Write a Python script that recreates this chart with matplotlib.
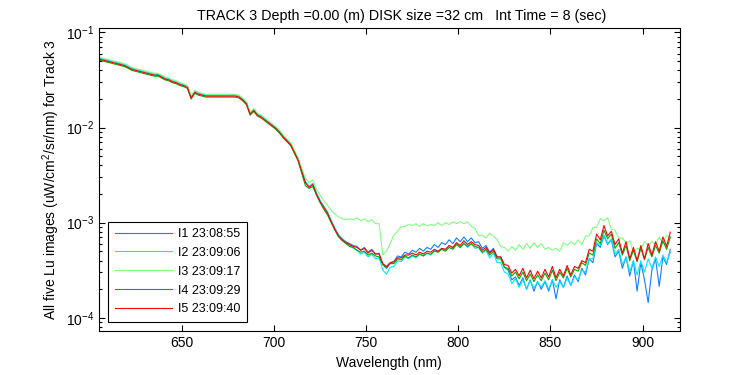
import numpy as np
import matplotlib
matplotlib.use('Agg')
import matplotlib.pyplot as plt
from matplotlib.ticker import LogLocator, NullFormatter

plt.rcParams['font.family'] = ['Liberation Sans', 'DejaVu Sans']
plt.rcParams['mathtext.default'] = 'regular'

# wavelength grid (nm), 2 nm steps
wavelength = np.arange(605, 916, 2)

# log10 of Lu, one list per image
i1_log = [-1.27,-1.28,-1.29,-1.30,-1.31,-1.32,-1.33,-1.34,-1.36,-1.38,
	-1.39,-1.40,-1.41,-1.42,-1.43,-1.44,-1.44,-1.46,-1.48,-1.49,
	-1.51,-1.52,-1.54,-1.55,-1.57,-1.68,-1.62,-1.64,-1.65,-1.66,
	-1.66,-1.66,-1.66,-1.66,-1.66,-1.66,-1.66,-1.66,-1.67,-1.70,
	-1.74,-1.85,-1.81,-1.86,-1.88,-1.91,-1.94,-1.97,-2.00,-2.04,
	-2.09,-2.13,-2.17,-2.25,-2.33,-2.45,-2.57,-2.62,-2.59,-2.69,
	-2.77,-2.83,-2.89,-2.98,-3.06,-3.13,-3.17,-3.20,-3.22,-3.24,
	-3.25,-3.29,-3.26,-3.31,-3.28,-3.33,-3.32,-3.44,-3.48,-3.43,
	-3.41,-3.35,-3.36,-3.31,-3.33,-3.29,-3.31,-3.27,-3.30,-3.26,
	-3.28,-3.23,-3.26,-3.21,-3.23,-3.18,-3.22,-3.16,-3.20,-3.15,
	-3.20,-3.16,-3.21,-3.20,-3.27,-3.24,-3.31,-3.27,-3.36,-3.36,
	-3.47,-3.50,-3.60,-3.57,-3.66,-3.58,-3.70,-3.60,-3.72,-3.62,
	-3.70,-3.62,-3.72,-3.60,-3.80,-3.60,-3.68,-3.56,-3.66,-3.55,
	-3.62,-3.48,-3.55,-3.38,-3.42,-3.22,-3.26,-3.14,-3.23,-3.18,
	-3.36,-3.30,-3.48,-3.36,-3.56,-3.40,-3.72,-3.42,-3.60,-3.84,
	-3.50,-3.38,-3.67,-3.36,-3.44,-3.28]

i2_log = [-1.27,-1.28,-1.29,-1.30,-1.31,-1.32,-1.33,-1.34,-1.36,-1.38,
	-1.39,-1.40,-1.41,-1.42,-1.43,-1.44,-1.44,-1.46,-1.48,-1.49,
	-1.51,-1.52,-1.54,-1.55,-1.57,-1.68,-1.62,-1.64,-1.65,-1.66,
	-1.66,-1.66,-1.66,-1.66,-1.66,-1.66,-1.66,-1.66,-1.67,-1.70,
	-1.74,-1.85,-1.81,-1.86,-1.88,-1.91,-1.94,-1.97,-2.00,-2.04,
	-2.09,-2.13,-2.17,-2.25,-2.33,-2.45,-2.57,-2.62,-2.59,-2.69,
	-2.77,-2.83,-2.89,-2.98,-3.06,-3.13,-3.17,-3.21,-3.24,-3.27,
	-3.29,-3.33,-3.31,-3.36,-3.33,-3.38,-3.37,-3.50,-3.54,-3.47,
	-3.46,-3.40,-3.41,-3.36,-3.38,-3.35,-3.37,-3.33,-3.35,-3.32,
	-3.34,-3.29,-3.31,-3.27,-3.29,-3.24,-3.27,-3.22,-3.26,-3.21,
	-3.26,-3.22,-3.27,-3.26,-3.32,-3.29,-3.37,-3.32,-3.42,-3.42,
	-3.52,-3.54,-3.64,-3.59,-3.68,-3.60,-3.70,-3.61,-3.69,-3.62,
	-3.68,-3.61,-3.70,-3.60,-3.68,-3.62,-3.68,-3.58,-3.66,-3.57,
	-3.60,-3.50,-3.52,-3.38,-3.38,-3.21,-3.24,-3.13,-3.22,-3.17,
	-3.33,-3.28,-3.44,-3.36,-3.52,-3.40,-3.55,-3.40,-3.52,-3.38,
	-3.48,-3.36,-3.46,-3.34,-3.42,-3.31]

i3_log = [-1.26,-1.27,-1.28,-1.29,-1.30,-1.31,-1.32,-1.33,-1.35,-1.37,
	-1.38,-1.39,-1.40,-1.41,-1.42,-1.43,-1.43,-1.45,-1.47,-1.48,
	-1.50,-1.51,-1.53,-1.54,-1.56,-1.67,-1.61,-1.63,-1.64,-1.65,
	-1.65,-1.65,-1.65,-1.65,-1.65,-1.65,-1.65,-1.65,-1.66,-1.69,
	-1.73,-1.84,-1.80,-1.85,-1.87,-1.90,-1.93,-1.96,-1.99,-2.03,
	-2.08,-2.12,-2.16,-2.24,-2.32,-2.43,-2.53,-2.58,-2.55,-2.65,
	-2.71,-2.77,-2.82,-2.87,-2.91,-2.94,-2.96,-2.97,-2.96,-2.97,
	-2.95,-2.98,-2.96,-2.99,-2.97,-3.01,-3.01,-3.34,-3.30,-3.22,
	-3.13,-3.09,-3.04,-3.04,-3.02,-3.03,-3.01,-3.04,-3.01,-3.03,
	-3.02,-3.03,-3.00,-3.03,-3.00,-3.02,-2.99,-3.01,-2.99,-3.01,
	-2.99,-3.04,-3.06,-3.14,-3.13,-3.16,-3.11,-3.14,-3.18,-3.25,
	-3.26,-3.30,-3.25,-3.29,-3.23,-3.28,-3.22,-3.27,-3.21,-3.26,
	-3.22,-3.28,-3.26,-3.29,-3.27,-3.30,-3.21,-3.24,-3.20,-3.23,
	-3.18,-3.23,-3.14,-3.14,-3.05,-3.05,-2.96,-2.98,-2.95,-3.07,
	-3.08,-3.16,-3.16,-3.22,-3.19,-3.31,-3.27,-3.28,-3.20,-3.24,
	-3.20,-3.23,-3.15,-3.22,-3.13,-3.16]

i4_log = [-1.29,-1.30,-1.31,-1.32,-1.33,-1.34,-1.35,-1.36,-1.38,-1.40,
	-1.41,-1.42,-1.43,-1.44,-1.45,-1.46,-1.46,-1.48,-1.50,-1.51,
	-1.53,-1.54,-1.56,-1.57,-1.59,-1.70,-1.64,-1.66,-1.67,-1.68,
	-1.68,-1.68,-1.68,-1.68,-1.68,-1.68,-1.68,-1.68,-1.69,-1.72,
	-1.76,-1.87,-1.83,-1.88,-1.90,-1.93,-1.96,-1.99,-2.02,-2.06,
	-2.11,-2.15,-2.19,-2.27,-2.35,-2.48,-2.61,-2.64,-2.62,-2.71,
	-2.79,-2.86,-2.92,-3.00,-3.08,-3.15,-3.19,-3.22,-3.25,-3.26,
	-3.29,-3.31,-3.30,-3.34,-3.32,-3.35,-3.36,-3.44,-3.47,-3.43,
	-3.43,-3.38,-3.39,-3.35,-3.37,-3.34,-3.36,-3.33,-3.35,-3.32,
	-3.33,-3.30,-3.31,-3.28,-3.30,-3.26,-3.28,-3.23,-3.26,-3.22,
	-3.25,-3.22,-3.25,-3.26,-3.31,-3.28,-3.34,-3.30,-3.38,-3.38,
	-3.47,-3.48,-3.56,-3.52,-3.59,-3.52,-3.61,-3.54,-3.62,-3.55,
	-3.61,-3.53,-3.60,-3.50,-3.61,-3.52,-3.58,-3.48,-3.57,-3.49,
	-3.51,-3.42,-3.45,-3.32,-3.34,-3.17,-3.22,-3.08,-3.17,-3.12,
	-3.27,-3.21,-3.34,-3.24,-3.40,-3.29,-3.41,-3.27,-3.39,-3.26,
	-3.36,-3.24,-3.32,-3.19,-3.28,-3.15]

i5_log = [-1.28,-1.29,-1.30,-1.31,-1.32,-1.33,-1.34,-1.35,-1.37,-1.39,
	-1.40,-1.41,-1.42,-1.43,-1.44,-1.45,-1.45,-1.47,-1.49,-1.50,
	-1.52,-1.53,-1.55,-1.56,-1.58,-1.69,-1.63,-1.65,-1.66,-1.67,
	-1.67,-1.67,-1.67,-1.67,-1.67,-1.67,-1.67,-1.67,-1.68,-1.71,
	-1.75,-1.86,-1.82,-1.87,-1.89,-1.92,-1.95,-1.98,-2.01,-2.05,
	-2.10,-2.14,-2.18,-2.26,-2.34,-2.46,-2.58,-2.63,-2.60,-2.70,
	-2.78,-2.84,-2.90,-2.99,-3.07,-3.14,-3.18,-3.21,-3.23,-3.25,
	-3.26,-3.29,-3.27,-3.32,-3.29,-3.33,-3.33,-3.43,-3.46,-3.42,
	-3.41,-3.37,-3.37,-3.34,-3.34,-3.32,-3.34,-3.31,-3.33,-3.30,
	-3.31,-3.28,-3.30,-3.27,-3.28,-3.24,-3.26,-3.21,-3.24,-3.19,
	-3.23,-3.20,-3.23,-3.24,-3.29,-3.26,-3.32,-3.28,-3.36,-3.36,
	-3.44,-3.45,-3.53,-3.49,-3.56,-3.48,-3.58,-3.50,-3.59,-3.51,
	-3.58,-3.49,-3.57,-3.46,-3.58,-3.49,-3.56,-3.45,-3.55,-3.46,
	-3.48,-3.40,-3.42,-3.28,-3.30,-3.12,-3.18,-3.03,-3.14,-3.09,
	-3.23,-3.17,-3.32,-3.20,-3.38,-3.26,-3.40,-3.24,-3.38,-3.22,
	-3.34,-3.20,-3.30,-3.15,-3.25,-3.10]

labels = ['I1 23:08:55', 'I2 23:09:06', 'I3 23:09:17', 'I4 23:09:29', 'I5 23:09:40']
colors = ['#1080ff', '#00e8ff', '#80ff80', '#00aa00', '#ff0000']
series = [i1_log, i2_log, i3_log, i4_log, i5_log]

fig = plt.figure(figsize=(7.5, 3.75), dpi=100)
ax = fig.add_axes([0.132, 0.117, 0.774, 0.808])

for s, c, lab in zip(series, colors, labels):
	ax.plot(wavelength, 10.0 ** np.array(s), color=c, lw=0.8, label=lab)

ax.set_yscale('log')
ax.set_xlim(605, 920)
ax.set_ylim(10 ** -4.14, 10 ** -0.955)
ax.set_xticks([650, 700, 750, 800, 850, 900])
ax.yaxis.set_major_locator(LogLocator(base=10, numticks=10))
ax.yaxis.set_minor_locator(LogLocator(base=10, subs=np.arange(2, 10), numticks=10))
ax.yaxis.set_minor_formatter(NullFormatter())

ax.tick_params(which='both', direction='in', top=True, right=True, labelsize=10, width=0.8)
ax.tick_params(which='major', length=4)
ax.tick_params(which='minor', length=2.5)
for sp in ax.spines.values():
	sp.set_linewidth(0.8)

ax.set_title('TRACK 3 Depth =0.00 (m) DISK size =32 cm   Int Time = 8 (sec)', fontsize=10.3, pad=6, x=0.522)
ax.set_xlabel('Wavelength (nm)', fontsize=10, labelpad=4)
ax.set_ylabel('All five Lu images (uW/cm$^2$/sr/nm) for Track 3', fontsize=10, labelpad=3)

leg = ax.legend(loc='lower left', bbox_to_anchor=(0.016, 0.031), borderaxespad=0,
	fontsize=9, handlelength=4.6, handletextpad=0.5, labelspacing=0.55, borderpad=0.5,
	fancybox=False, framealpha=1, edgecolor='black')
leg.get_frame().set_linewidth(0.8)

fig.savefig('out.png', dpi=100)
